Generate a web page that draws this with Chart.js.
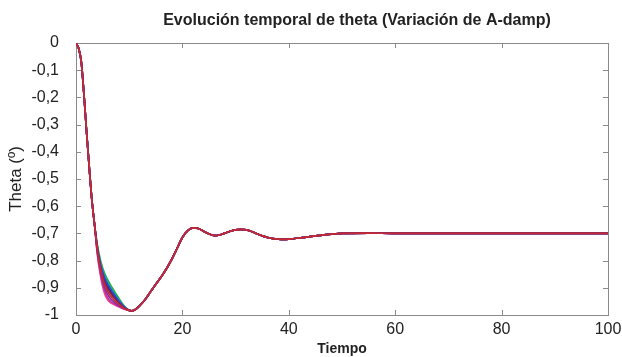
<!DOCTYPE html>
<html>
<head>
<meta charset="utf-8">
<script src="https://cdn.jsdelivr.net/npm/chart.js@4"></script>
<style>
  body { margin: 0; background: #fff; }
</style>
</head>
<body>
<canvas id="grafico" width="622" height="357"></canvas>
<script>
// tiempos
const tInicio = [0, 0.5, 1, 1.5, 2, 2.5, 3, 3.5];
const tMedio = [4, 4.5, 5, 5.5, 6, 6.5, 7, 7.5, 8, 8.5, 9, 9.5];
const tFinal = [10, 10.5, 11, 12, 13, 14, 15, 16, 17, 18, 19, 20, 21, 22, 23, 24, 25, 26, 27, 28, 29, 30,
  31, 32, 33, 34, 35, 36, 37, 38, 39, 40, 42, 44, 46, 48, 50, 55, 60, 70, 80, 90, 100];

// tramo comun de todas las curvas
const thetaInicio = [0, -0.02, -0.07, -0.19, -0.33, -0.46, -0.58, -0.67];
const thetaFinal = [-0.983, -0.985, -0.982, -0.965, -0.943, -0.915, -0.887, -0.86, -0.83, -0.795, -0.755, -0.715,
  -0.69, -0.68, -0.682, -0.692, -0.702, -0.708, -0.706, -0.699, -0.692, -0.687, -0.685, -0.687, -0.693, -0.701,
  -0.709, -0.715, -0.719, -0.721, -0.722, -0.721, -0.717, -0.712, -0.707, -0.703, -0.7, -0.699, -0.7, -0.7,
  -0.7, -0.7, -0.7];

// tramo donde cambia cada A-damp
const thetaRojo    = [-0.76, -0.82, -0.865, -0.895, -0.915, -0.93, -0.942, -0.952, -0.96, -0.968, -0.975, -0.98];
const thetaGranate = [-0.757, -0.815, -0.857, -0.885, -0.905, -0.92, -0.933, -0.945, -0.955, -0.965, -0.973, -0.979];
const thetaMorado  = [-0.765, -0.828, -0.875, -0.905, -0.926, -0.94, -0.95, -0.958, -0.965, -0.971, -0.976, -0.98];
const thetaAzul    = [-0.75, -0.805, -0.843, -0.87, -0.889, -0.905, -0.92, -0.934, -0.947, -0.959, -0.969, -0.977];
const thetaMarino  = [-0.753, -0.81, -0.85, -0.877, -0.896, -0.912, -0.926, -0.939, -0.951, -0.962, -0.971, -0.978];
const thetaMagenta = [-0.77, -0.835, -0.885, -0.918, -0.938, -0.95, -0.957, -0.963, -0.968, -0.973, -0.977, -0.98];
const thetaCian    = [-0.745, -0.798, -0.835, -0.861, -0.881, -0.898, -0.914, -0.929, -0.943, -0.956, -0.968, -0.977];
const thetaRosa    = [-0.775, -0.845, -0.895, -0.928, -0.946, -0.955, -0.96, -0.965, -0.97, -0.974, -0.978, -0.981];
const thetaVerde   = [-0.74, -0.79, -0.826, -0.852, -0.872, -0.89, -0.906, -0.922, -0.937, -0.952, -0.965, -0.976];

const tramos = [thetaRojo, thetaGranate, thetaMorado, thetaAzul, thetaMarino, thetaMagenta, thetaCian, thetaRosa, thetaVerde];
const colores = ['#c62a34', '#8e1f3c', '#7d2fb0', '#2f45d8', '#27297e', '#d1309f', '#1aa5a0', '#ee4f8c', '#25b03a'];

const xTicks = [0, 20, 40, 60, 80, 100];
const yTicks = [0, -0.1, -0.2, -0.3, -0.4, -0.5, -0.6, -0.7, -0.8, -0.9, -1];
const yEtiquetas = ['0', '-0,1', '-0,2', '-0,3', '-0,4', '-0,5', '-0,6', '-0,7', '-0,8', '-0,9', '-1'];

const fuente = 'Liberation Sans, Arial, Helvetica, sans-serif';

function armarSerie(medio) {
  const t = tInicio.concat(tMedio, tFinal);
  const v = thetaInicio.concat(medio, thetaFinal);
  return t.map((x, i) => ({ x: x, y: v[i] }));
}

const datasets = tramos.map((tramo, i) => ({
  data: armarSerie(tramo),
  borderColor: colores[i],
  borderWidth: 1.7,
  pointRadius: 0,
  cubicInterpolationMode: 'monotone',
  fill: false
}));

// caja y marcas hacia dentro, estilo matlab
const cajaPlugin = {
  id: 'caja',
  beforeDatasetsDraw(chart) {
    const { ctx, chartArea: a, scales } = chart;
    ctx.save();
    ctx.strokeStyle = '#8a8a8a';
    ctx.lineWidth = 1;
    ctx.strokeRect(Math.round(a.left) + 0.5, Math.round(a.top) + 0.5, Math.round(a.right - a.left), Math.round(a.bottom - a.top));
    ctx.beginPath();
    xTicks.forEach(v => {
      const px = Math.round(scales.x.getPixelForValue(v)) + 0.5;
      ctx.moveTo(px, a.bottom); ctx.lineTo(px, a.bottom - 5);
      ctx.moveTo(px, a.top); ctx.lineTo(px, a.top + 5);
    });
    yTicks.forEach(v => {
      const py = Math.round(scales.y.getPixelForValue(v)) + 0.5;
      ctx.moveTo(a.left, py); ctx.lineTo(a.left + 5, py);
      ctx.moveTo(a.right, py); ctx.lineTo(a.right - 5, py);
    });
    ctx.stroke();
    ctx.restore();
  },
  afterDraw(chart) {
    const ctx = chart.ctx;
    ctx.save();
    ctx.fillStyle = '#222';
    ctx.font = 'bold 16px ' + fuente;
    ctx.textAlign = 'center';
    ctx.textBaseline = 'middle';
    ctx.fillText('Evolución temporal de theta (Variación de A-damp)', 357, 21);
    ctx.restore();
  }
};

new Chart(document.getElementById('grafico'), {
  type: 'line',
  data: { datasets: datasets },
  options: {
    responsive: false,
    animation: false,
    layout: { padding: { top: 43, right: 14, left: 0, bottom: 0 } },
    plugins: { legend: { display: false }, tooltip: { enabled: false } },
    scales: {
      x: {
        type: 'linear',
        min: 0, max: 100,
        afterBuildTicks: s => { s.ticks = xTicks.map(v => ({ value: v })); },
        afterFit: s => { s.height = 42; },
        grid: { display: false },
        border: { display: false },
        ticks: { color: '#222', font: { family: fuente, size: 16 }, padding: -3, maxRotation: 0, autoSkip: false },
        title: { display: true, text: 'Tiempo', color: '#222', font: { family: fuente, size: 14, weight: 'bold' }, padding: { top: 0, bottom: -1 } }
      },
      y: {
        type: 'linear',
        min: -1, max: 0,
        afterBuildTicks: s => { s.ticks = yTicks.map(v => ({ value: v })); },
        afterFit: s => { s.width = 76; },
        grid: { display: false },
        border: { display: false },
        ticks: {
          color: '#222', font: { family: fuente, size: 16 }, padding: 9, autoSkip: false,
          callback: (v) => yEtiquetas[yTicks.findIndex(t => Math.abs(t - v) < 1e-6)]
        },
        title: { display: true, text: 'Theta (º)', color: '#222', font: { family: fuente, size: 17 }, padding: { top: 6, bottom: 0 } }
      }
    }
  },
  plugins: [cajaPlugin]
});
</script>
</body>
</html>
